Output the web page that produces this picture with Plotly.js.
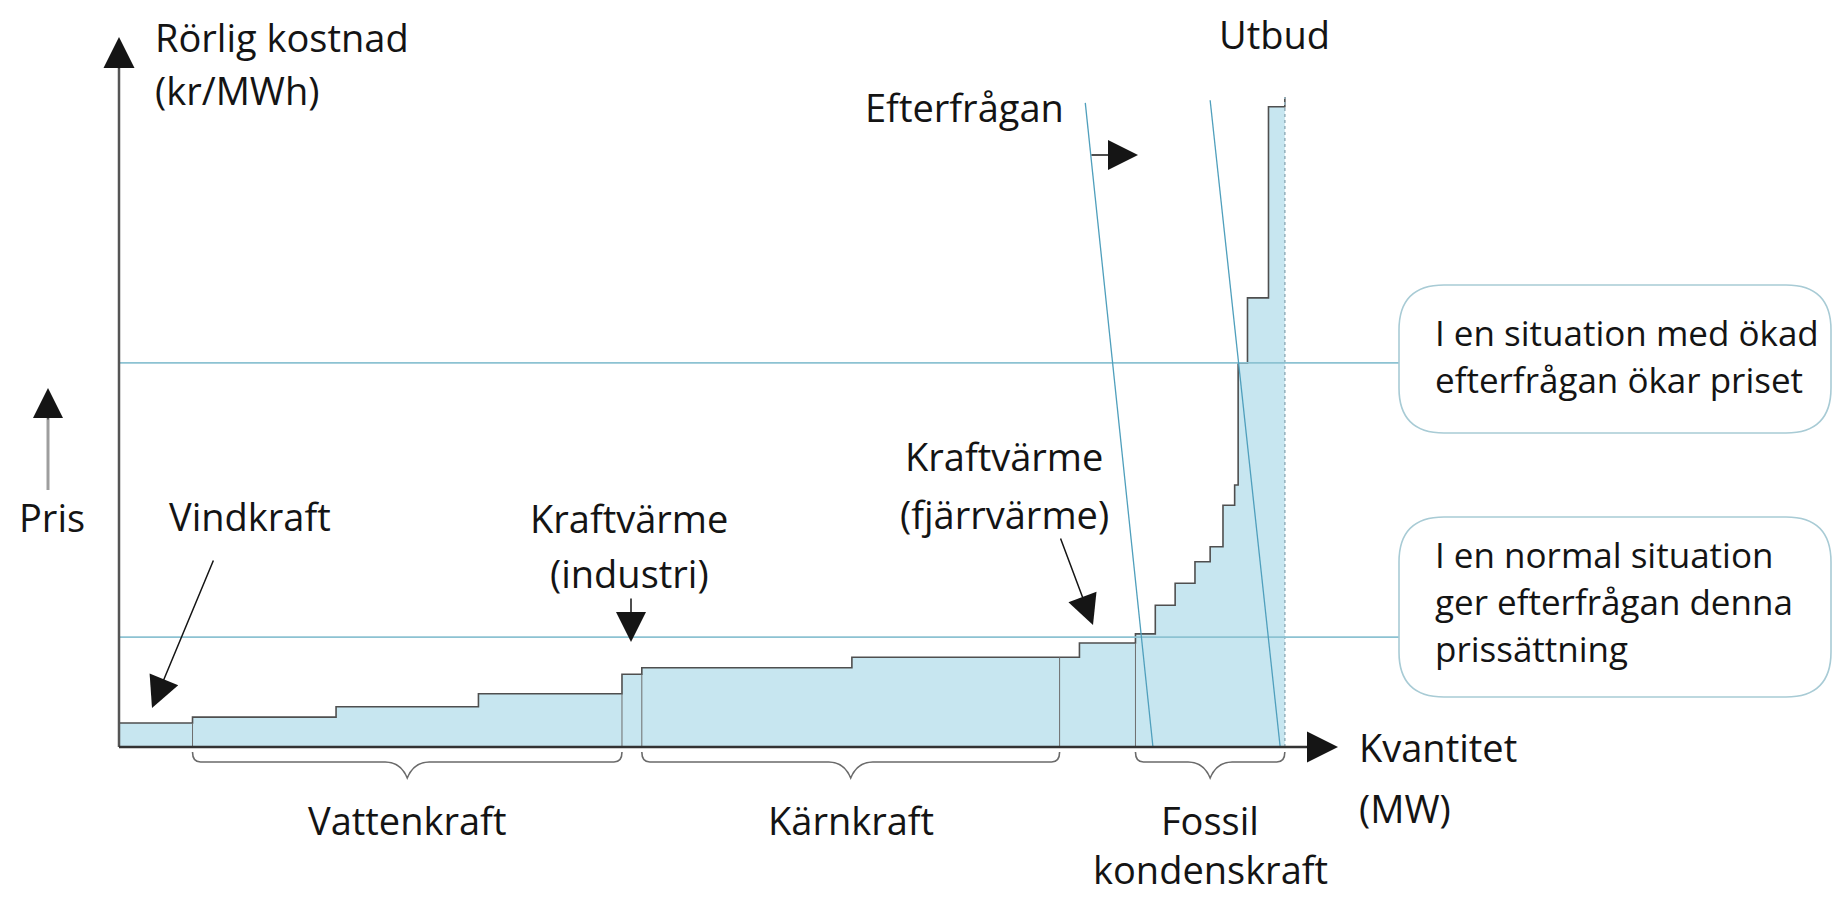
<!DOCTYPE html>
<html>
<head>
<meta charset="utf-8">
<script src="https://cdn.plot.ly/plotly-3.0.1.min.js"></script>
<style>html,body{margin:0;padding:0;background:#fff}</style>
</head>
<body>
<div id="chart" style="width:1834px;height:897px"></div>
<script>
// ---------------- data (schematic units: quantity 0-100, variable cost 0-100) ----------------
const supplyQ    = [0, 6.3, 18.6, 30.8, 43.1, 44.8, 62.8, 82.3, 87.1, 88.8, 90.5, 92.2, 93.5, 94.6, 95.6, 95.9, 96.7, 98.5, 99.9];
const supplyCost = [3.7, 4.6, 6.2, 8.2, 11.2, 12.2, 13.8, 16.0, 17.4, 21.8, 25.2, 28.5, 30.8, 37.2, 40.3, 59.1, 69.1, 98.5, 100];
const dividerQ   = [6.3, 43.1, 44.8, 80.6, 87.1];

const groupLabels = [['Vattenkraft'], ['Kärnkraft'], ['Fossil', 'kondenskraft']];
const groupStart  = [6.3, 44.8, 87.1];
const groupEnd    = [43.1, 80.6, 99.9];

const demandNames      = ['Efterfrågan (normal)', 'Efterfrågan (ökad)'];
const demandQTop       = [82.8, 93.5];
const demandCostTop    = [99.1, 99.5];
const demandQBottom    = [88.6, 99.5];
const demandCostBottom = [0, 0];

const priceLevels = [16.9, 59.1];
const boxTexts = [
  ['I en situation med ökad', 'efterfrågan ökar priset'],
  ['I en normal situation', 'ger efterfrågan denna', 'prissättning']
];

// ---------------- geometry helpers (layout only) ----------------
const W = 1834, H = 897;
const PX0 = 119, PY0 = 747, XU = 11.67, YU = 6.5;
const X = px => (px - PX0) / XU;
const Y = py => (PY0 - py) / YU;
const FONT = '"Open Sans", "Noto Sans", sans-serif';
const TXT = '#141414';

function levelAt(q) {
  let lv = 0;
  for (let i = 0; i < supplyQ.length; i++) if (supplyQ[i] < q) lv = supplyCost[i];
  return lv;
}

const traces = [];
// supply curve with fill
traces.push({
  type: 'scatter', mode: 'lines', x: supplyQ, y: supplyCost,
  line: {shape: 'hv', color: '#4f4f4f', width: 1.6},
  fill: 'tozeroy', fillcolor: '#c7e6f0', hoverinfo: 'skip', name: 'Utbud'
});
// dividers between technologies
const dx = [], dy = [];
dividerQ.forEach(q => { dx.push(q, q, null); dy.push(0, levelAt(q), null); });
traces.push({type: 'scatter', mode: 'lines', x: dx, y: dy, line: {color: '#6d6d6d', width: 1}, hoverinfo: 'skip'});
// dotted right edge of supply
const lastQ = supplyQ[supplyQ.length - 1];
traces.push({type: 'scatter', mode: 'lines', x: [lastQ, lastQ], y: [0, supplyCost[supplyCost.length - 1]],
  line: {color: '#98b4bf', width: 1.6, dash: 'dot'}, hoverinfo: 'skip'});
// price lines to the boxes
priceLevels.forEach(p => traces.push({type: 'scatter', mode: 'lines', x: [0, X(1399)], y: [p, p],
  line: {color: '#8cc2d2', width: 1.6}, hoverinfo: 'skip'}));
// demand curves
demandNames.forEach((n, i) => traces.push({type: 'scatter', mode: 'lines', name: n,
  x: [demandQTop[i], demandQBottom[i]], y: [demandCostTop[i], demandCostBottom[i]],
  line: {color: '#4f9fbc', width: 1.3}, hoverinfo: 'skip'}));

// ---------------- shapes ----------------
const P = (px, py) => X(px) + ',' + Y(py);
function roundBox(px0, py0, px1, py1, r) {
  return 'M' + P(px0 + r, py0) + ' L' + P(px1 - r, py0) + ' Q' + P(px1, py0) + ' ' + P(px1, py0 + r) +
    ' L' + P(px1, py1 - r) + ' Q' + P(px1, py1) + ' ' + P(px1 - r, py1) +
    ' L' + P(px0 + r, py1) + ' Q' + P(px0, py1) + ' ' + P(px0, py1 - r) +
    ' L' + P(px0, py0 + r) + ' Q' + P(px0, py0) + ' ' + P(px0 + r, py0) + ' Z';
}
const D = (q, c) => q + ',' + c;
function brace(q0, q1) {
  const yt = Y(752), ym = Y(762), yp = Y(778);
  const h = 8 / XU, v = 22 / XU, qm = (q0 + q1) / 2;
  return 'M' + D(q0, yt) + ' Q' + D(q0, ym) + ' ' + D(q0 + h, ym) + ' L' + D(qm - v, ym) +
    ' Q' + D(qm - v * 0.3, ym) + ' ' + D(qm, yp) + ' Q' + D(qm + v * 0.3, ym) + ' ' + D(qm + v, ym) +
    ' L' + D(q1 - h, ym) + ' Q' + D(q1, ym) + ' ' + D(q1, yt);
}
const shapes = [];
shapes.push({type: 'line', xref: 'x', yref: 'y', x0: 0, y0: 0, x1: 0, y1: Y(66), line: {color: '#555', width: 2.5}});
shapes.push({type: 'line', xref: 'x', yref: 'y', x0: 0, y0: 0, x1: X(1310), y1: 0, line: {color: '#333', width: 2.5}});
shapes.push({type: 'line', xref: 'x', yref: 'y', x0: X(48), y0: Y(490), x1: X(48), y1: Y(418), line: {color: '#9e9e9e', width: 3}});
groupStart.forEach((s, i) => shapes.push({type: 'path', xref: 'x', yref: 'y', path: brace(s, groupEnd[i]),
  line: {color: '#6a6a6a', width: 1.6}}));
shapes.push({type: 'path', xref: 'x', yref: 'y', path: roundBox(1399, 285, 1831, 433, 45), fillcolor: '#fff', line: {color: '#a8cbd5', width: 1.6}});
shapes.push({type: 'path', xref: 'x', yref: 'y', path: roundBox(1399, 517, 1831, 697, 45), fillcolor: '#fff', line: {color: '#a8cbd5', width: 1.6}});

// ---------------- annotations ----------------
function label(text, px, py, xanchor, size) {
  return {xref: 'x', yref: 'y', x: X(px), y: Y(py), text: text, showarrow: false,
    xanchor: xanchor, yanchor: 'middle', font: {family: FONT, size: size || 38, color: TXT}};
}
function arrow(tx, ty, hx, hy, width, headLen, color) {
  return {xref: 'x', yref: 'y', axref: 'x', ayref: 'y', x: X(hx), y: Y(hy), ax: X(tx), ay: Y(ty),
    text: '', showarrow: true, arrowhead: 2, arrowwidth: width, arrowsize: headLen / (5 * width),
    arrowcolor: color || '#151515', standoff: 0, startstandoff: 0};
}
const ann = [];
ann.push(label('Rörlig kostnad', 153, 37, 'left'));
ann.push(label('(kr/MWh)', 153, 90, 'left'));
ann.push(label('Utbud', 1274, 34, 'center'));
ann.push(label('Efterfrågan', 1066, 107, 'right'));
ann.push(label('Pris', 17, 517, 'left'));
ann.push(label('Vindkraft', 167, 516, 'left'));
ann.push(label('Kraftvärme', 629, 518, 'center'));
ann.push(label('(industri)', 629, 573, 'center'));
ann.push(label('Kraftvärme', 1004, 456, 'center'));
ann.push(label('(fjärrvärme)', 1004, 514, 'center'));
ann.push(label('Kvantitet', 1357, 747, 'left'));
ann.push(label('(MW)', 1357, 808, 'left'));
groupLabels.forEach((lines, i) => {
  const qm = (groupStart[i] + groupEnd[i]) / 2;
  lines.forEach((t, j) => ann.push({xref: 'x', yref: 'y', x: qm, y: Y(820 + j * 49), text: t, showarrow: false,
    xanchor: 'center', yanchor: 'middle', font: {family: FONT, size: 38, color: TXT}}));
});
const boxTop = [332, 554];
boxTexts.forEach((lines, i) => lines.forEach((t, j) =>
  ann.push(label(t, 1433, boxTop[i] + j * 47, 'left', 35))));
// arrows
ann.push(arrow(119, 70, 119, 37, 1, 31));
ann.push(arrow(1305, 747, 1338, 747, 1, 31));
ann.push(arrow(48, 421, 48, 388, 1, 30));
ann.push(arrow(214, 559, 152, 708, 1.5, 31));
ann.push(arrow(631, 597, 631, 642, 1.5, 30));
ann.push(arrow(1060, 537, 1093, 625, 1.5, 30));
ann.push(arrow(1090, 155, 1138, 155, 1.3, 30));

const layout = {
  width: W, height: H, margin: {l: 0, r: 0, t: 0, b: 0},
  paper_bgcolor: '#fff', plot_bgcolor: '#fff', showlegend: false,
  xaxis: {range: [X(0), X(W)], visible: false, fixedrange: true},
  yaxis: {range: [Y(H), Y(0)], visible: false, fixedrange: true},
  shapes: shapes, annotations: ann, font: {family: FONT}
};
Plotly.newPlot('chart', traces, layout, {displayModeBar: false, staticPlot: true});
</script>
</body>
</html>
